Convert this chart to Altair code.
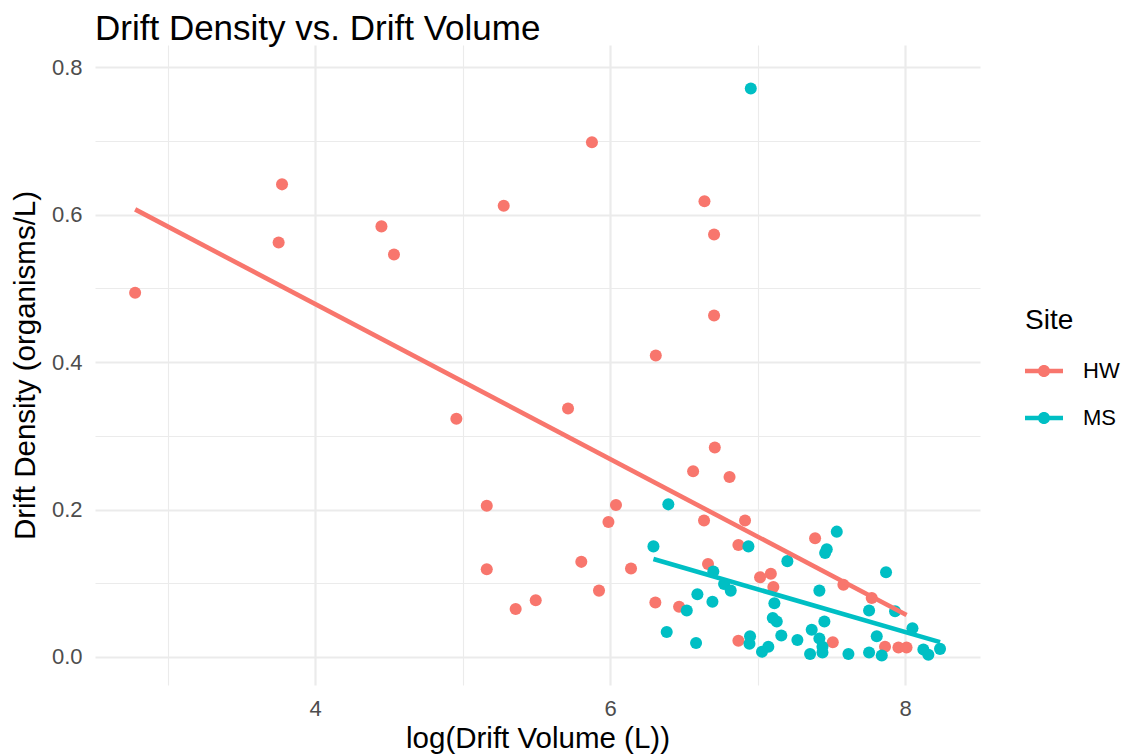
import altair as alt
import pandas as pd

# ---- data ----
hw_x = [2.78, 3.776, 3.753, 4.45, 4.535, 4.958, 5.164, 5.164, 5.279, 5.36,
        5.496, 5.715, 5.805, 5.877, 5.925, 5.989, 6.04, 6.142, 6.307, 6.31,
        6.468, 6.563, 6.637, 6.64, 6.664, 6.705, 6.705, 6.71, 6.81, 6.87,
        6.87, 6.915, 7.017, 7.09, 7.107, 7.39, 7.51, 7.582, 7.774, 7.864,
        7.955, 8.01]
hw_y = [0.494, 0.641, 0.562, 0.584, 0.546, 0.323, 0.205, 0.119, 0.612, 0.065,
        0.077, 0.337, 0.129, 0.698, 0.090, 0.183, 0.206, 0.120, 0.074, 0.409,
        0.068, 0.252, 0.185, 0.618, 0.126, 0.573, 0.463, 0.284, 0.244, 0.152,
        0.022, 0.185, 0.108, 0.113, 0.095, 0.161, 0.020, 0.098, 0.080, 0.014,
        0.013, 0.013]

ms_x = [6.294, 6.384, 6.395, 6.52, 6.583, 6.592, 6.694, 6.70, 6.773, 6.818,
        6.938, 6.945, 6.949, 6.954, 7.03, 7.073, 7.103, 7.114, 7.130, 7.161,
        7.202, 7.27, 7.356, 7.367, 7.419, 7.419, 7.44, 7.44, 7.453, 7.458,
        7.469, 7.537, 7.616, 7.756, 7.756, 7.808, 7.842, 7.871, 7.932, 8.05,
        8.124, 8.158, 8.237]
ms_y = [0.150, 0.034, 0.207, 0.063, 0.019, 0.085, 0.075, 0.116, 0.099, 0.090,
        0.150, 0.018, 0.028, 0.771, 0.007, 0.014, 0.053, 0.073, 0.048, 0.029,
        0.130, 0.023, 0.004, 0.037, 0.090, 0.025, 0.006, 0.014, 0.048, 0.141,
        0.146, 0.170, 0.004, 0.063, 0.006, 0.028, 0.002, 0.115, 0.062, 0.039,
        0.010, 0.003, 0.011]

sites = ["HW", "MS"]
site_colors = ["#F8766D", "#00BFC4"]
x_ticks = [3, 4, 5, 6, 7, 8]
y_ticks = [0.0, 0.1, 0.2, 0.3, 0.4, 0.5, 0.6, 0.7, 0.8]

df = pd.DataFrame({
    "volume": hw_x + ms_x,
    "density": hw_y + ms_y,
    "Site": ["HW"] * len(hw_x) + ["MS"] * len(ms_x),
})

FONT = "Liberation Sans"
GRID = "#EBEBEB"

x_axis = alt.Axis(
    values=x_ticks,
    labelExpr="datum.value % 2 == 0 ? datum.label : ''",
    ticks=False, domain=False,
    gridColor=GRID,
    gridWidth={"condition": {"test": "datum.value % 2 == 0", "value": 2.2}, "value": 1.1},
    labelPadding=13, titlePadding=5,
    labelFontSize=22, titleFontSize=29.5,
    labelColor="#4D4D4D", titleColor="black", titleFontWeight="normal",
    labelFlush=False, labelOverlap=False,
)
y_axis = alt.Axis(
    values=y_ticks,
    labelExpr="round(datum.value * 10) % 2 == 0 ? format(datum.value, '.1f') : ''",
    ticks=False, domain=False,
    gridColor=GRID,
    gridWidth={"condition": {"test": "round(datum.value * 10) % 2 == 0", "value": 2.2}, "value": 1.1},
    labelPadding=13, titlePadding=11,
    labelFontSize=22, titleFontSize=29.5,
    labelColor="#4D4D4D", titleColor="black", titleFontWeight="normal",
    labelFlush=False, labelOverlap=False,
)

x_enc = alt.X("volume:Q", title="log(Drift Volume (L))",
              scale=alt.Scale(domain=[2.508, 8.508], nice=False, zero=False),
              axis=x_axis)
y_enc = alt.Y("density:Q", title="Drift Density (organisms/L)",
              scale=alt.Scale(domain=[-0.038, 0.83], nice=False, zero=False),
              axis=y_axis)

key_path = ("M-1,-0.12H1V0.12H-1Z "
            "M-0.32,0A0.32,0.32 0 1,1 0.32,0A0.32,0.32 0 1,1 -0.32,0Z")

legend = alt.Legend(
    orient="none", legendX=930, legendY=262,
    title="Site", titleFontSize=28, titleFontWeight="normal", titleColor="black",
    titlePadding=17,
    labelFontSize=22, labelColor="black", labelOffset=20,
    symbolType=key_path, symbolSize=1444, symbolStrokeWidth=0, symbolOpacity=1,
    rowPadding=17, padding=0,
)

color_enc = alt.Color("Site:N", scale=alt.Scale(domain=sites, range=site_colors),
                      legend=legend)

base = alt.Chart(df)

points = base.mark_point(filled=True, size=145, opacity=1).encode(
    x=x_enc, y=y_enc, color=color_enc
)

lines = base.transform_regression(
    "volume", "density", groupby=["Site"]
).mark_line(strokeWidth=4.6).encode(
    x=x_enc, y=y_enc,
    color=alt.Color("Site:N", scale=alt.Scale(domain=sites, range=site_colors), legend=None),
)

chart = alt.layer(points, lines).properties(
    width=885, height=640,
    autosize=alt.AutoSizeParams(type="none"),
    padding={"left": 95, "top": 45, "right": 148, "bottom": 70},
    title=alt.TitleParams("Drift Density vs. Drift Volume", anchor="start", frame="group",
                          fontSize=35, fontWeight="normal", color="black", offset=-2),
).configure(font=FONT).configure_view(stroke=None)

chart.save("out.html", embed_options={"renderer": "svg", "actions": False})
